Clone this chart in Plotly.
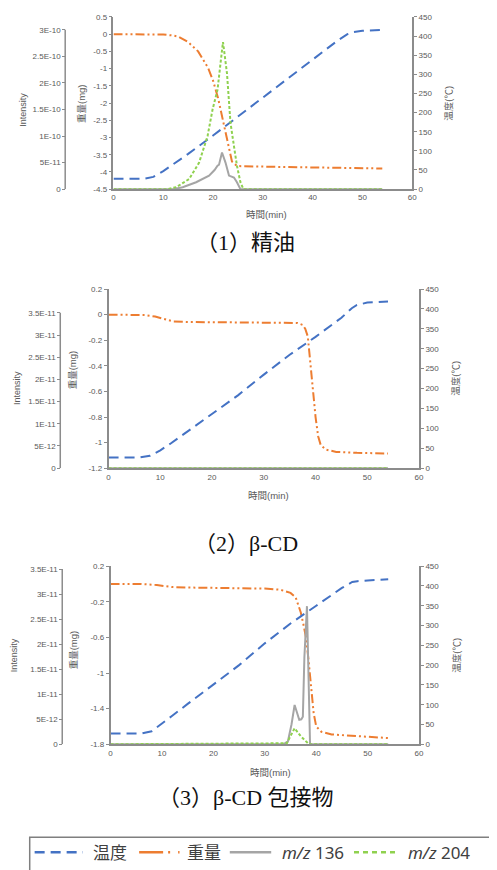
import plotly.graph_objects as go

# page body keeps an 8px margin: the figure is shifted so it lines up with the window
OFF = 8
FW, FH = 497 - OFF, 870 - OFF

# ---------------- data ----------------
x_ticks = [0, 10, 20, 30, 40, 50, 60]
temp_ticks = [0, 50, 100, 150, 200, 250, 300, 350, 400, 450]

t_temp = [0, 6, 8, 10, 12, 15, 20, 25, 30, 35, 40, 45, 47, 48, 50, 54]
temp1 = [27, 27, 32, 47, 65, 92, 140, 190, 240, 290, 340, 388, 405, 410, 414, 416]
temp2 = [27, 27, 31, 45, 62, 90, 135, 183, 235, 285, 330, 378, 402, 410, 416, 419]
temp3 = [27, 27, 33, 52, 72, 102, 152, 200, 255, 305, 350, 395, 410, 412, 414, 417]

# panel 1 : 精油
t_w1 = [0, 5, 10, 12, 13, 15, 17, 19, 20, 21, 22, 23, 23.8, 24.8, 27, 30, 35, 40, 45, 50, 54]
w1 = [0, 0, -0.01, -0.04, -0.07, -0.23, -0.5, -0.98, -1.35, -1.85, -2.5, -3.2, -3.7,
      -3.83, -3.84, -3.85, -3.86, -3.87, -3.88, -3.89, -3.9]
t_a1 = [0, 12, 13.9, 16.6, 19.2, 20.3, 20.9, 21.2, 21.8, 22.5, 23.2, 24.2, 24.8, 25.5, 54]
mz136_1 = [0, 0, 3.7e-12, 1.3e-11, 2.55e-11, 3.6e-11, 4.4e-11, 4.6e-11, 6.9e-11, 5.0e-11,
           2.55e-11, 2.2e-11, 1.3e-11, 0, 0]
t_b1 = [0, 10.9, 12.6, 15.2, 17.2, 18.9, 19.9, 20.9, 21.5, 22.0, 22.8, 23.5, 24.2, 24.8, 25.5, 26.1, 54]
mz204_1 = [0, 0, 3.7e-12, 1.9e-11, 5.0e-11, 1.0e-10, 1.5e-10, 1.87e-10, 2.37e-10, 2.77e-10,
           2.18e-10, 1.25e-10, 8.1e-11, 4.4e-11, 1.3e-11, 0, 0]
w1_ticks = [0.5, 0, -0.5, -1, -1.5, -2, -2.5, -3, -3.5, -4, -4.5]
w1_text = ["0.5", "0", "-0.5", "-1", "-1.5", "-2", "-2.5", "-3", "-3.5", "-4", "-4.5"]
i1_ticks = [0, 5e-11, 1e-10, 1.5e-10, 2e-10, 2.5e-10, 3e-10]
i1_text = ["0", "5E-11", "1E-10", "1.5E-10", "2E-10", "2.5E-10", "3E-10"]

# panel 2 : β-CD
t_w2 = [0, 5, 7, 9, 11, 12.5, 15, 20, 25, 30, 35, 36.5, 37.5, 38, 38.5, 39, 39.5, 40, 40.5,
        41, 42, 44, 48, 54]
w2 = [0, 0, -0.003, -0.015, -0.04, -0.053, -0.057, -0.058, -0.058, -0.058, -0.06, -0.065,
      -0.08, -0.11, -0.17, -0.38, -0.6, -0.8, -0.95, -1.02, -1.055, -1.073, -1.08, -1.085]
t_a2 = [0, 54]
mz136_2 = [0, 0]
mz204_2 = [0, 0]
w2_ticks = [0.2, 0, -0.2, -0.4, -0.6, -0.8, -1, -1.2]
w2_text = ["0.2", "0", "-0.2", "-0.4", "-0.6", "-0.8", "-1", "-1.2"]
i23_ticks = [0, 5e-12, 1e-11, 1.5e-11, 2e-11, 2.5e-11, 3e-11, 3.5e-11]
i23_text = ["0", "5E-12", "1E-11", "1.5E-11", "2E-11", "2.5E-11", "3E-11", "3.5E-11"]

# panel 3 : β-CD 包接物
t_w3 = [0, 6, 9, 12, 15, 20, 25, 30, 33, 35, 36, 37, 37.5, 38, 38.5, 39, 39.5, 40, 41, 43,
        46, 50, 54]
w3 = [0, 0, -0.012, -0.035, -0.04, -0.043, -0.045, -0.052, -0.065, -0.1, -0.15, -0.32,
      -0.45, -0.6, -0.85, -1.2, -1.45, -1.6, -1.66, -1.69, -1.7, -1.715, -1.73]
t_a3 = [0, 33.6, 34.5, 35.2, 35.8, 36.2, 36.7, 37.1, 37.4, 37.7, 38.2, 38.8, 54]
mz136_3 = [0, 0, 6e-13, 4e-12, 7.85e-12, 6.5e-12, 4.9e-12, 5.0e-12, 5.5e-12, 1.74e-11,
           2.76e-11, 0, 0]
t_b3 = [0, 34.3, 34.8, 35.8, 37.0, 38.0, 38.6, 54]
mz204_3 = [0, 2e-13, 1.25e-12, 3.2e-12, 1.6e-12, 6e-13, 0, 0]
w3_ticks = [0.2, -0.2, -0.6, -1, -1.4, -1.8]
w3_text = ["0.2", "-0.2", "-0.6", "-1", "-1.4", "-1.8"]

captions = ["（1）精油", "（2）β-CD", "（3）β-CD 包接物"]
names = ["温度", "重量", "<i>m/z</i> 136", "<i>m/z</i> 204"]

# ---------------- styling ----------------
C_T, C_W, C_136, C_204 = "#4472C4", "#ED7D31", "#A5A5A5", "#8FD14F"
D_T, D_W, D_204 = "10px,6px", "9px,3px,2px,3px,2px,3px", "3px,2px"
AX = "#8C8C8C"
TXT = "#595959"
TF = dict(family="Liberation Sans, Arial", size=8, color=TXT)
CJK = "Noto Sans CJK JP"


def px(X):
    return (X - OFF) / FW


def py(Y):
    return 1 - (Y - OFF) / FH


panels = [
    dict(xd=(113, 416), yd=(13, 187), wr=(-4.5, 0.5), wt=(w1_ticks, w1_text),
         ir=3e-10 * 174 / 161, it=(i1_ticks, i1_text), itop=3e-10, ipos=64,
         temp=temp1, tw=t_w1, w=w1, ta=t_a1, a=mz136_1, tb=t_b1, b=mz204_1,
         tit_int=(21, 107), tit_w=(80, 100), tit_t=(452, 100), xt=(268, 213), cap=241),
    dict(xd=(108, 423), yd=(288, 469), wr=(-1.2, 0.2), wt=(w2_ticks, w2_text),
         ir=3.5e-11 * 181 / 157, it=(i23_ticks, i23_text), itop=3.5e-11, ipos=59,
         temp=temp2, tw=t_w2, w=w2, ta=t_a2, a=mz136_2, tb=t_a2, b=mz204_2,
         tit_int=(15, 388), tit_w=(71, 370), tit_t=(460, 378), xt=(270, 497), cap=545),
    dict(xd=(110, 423), yd=(568, 748), wr=(-1.8, 0.2), wt=(w3_ticks, w3_text),
         ir=3.5e-11 * 180 / 177, it=(i23_ticks, i23_text), itop=3.5e-11, ipos=61,
         temp=temp3, tw=t_w3, w=w3, ta=t_a3, a=mz136_3, tb=t_b3, b=mz204_3,
         tit_int=(12, 658), tit_w=(72, 653), tit_t=(461, 658), xt=(272, 777), cap=802),
]

fig = go.Figure()
layout = {}
shapes = []
annotations = []


def ann(text, pos, angle=0, size=9, fam="Liberation Sans, " + CJK, color=TXT, xanchor="center"):
    annotations.append(dict(text=text, x=px(pos[0]), y=py(pos[1]), xref="paper",
                            yref="paper", showarrow=False, textangle=angle,
                            xanchor=xanchor, yanchor="middle",
                            font=dict(size=size, family=fam, color=color)))


for i, p in enumerate(panels):
    k = i + 1
    xa = "x" if k == 1 else f"x{k}"
    yw_n, yt_n, yi_n = 3 * i + 1, 3 * i + 2, 3 * i + 3
    yw = "y" if yw_n == 1 else f"y{yw_n}"
    yt, yi = f"y{yt_n}", f"y{yi_n}"

    fig.add_trace(go.Scatter(x=t_temp, y=p["temp"], xaxis=xa, yaxis=yt, mode="lines",
                             name=names[0], line=dict(color=C_T, width=2, dash=D_T)))
    fig.add_trace(go.Scatter(x=p["tw"], y=p["w"], xaxis=xa, yaxis=yw, mode="lines",
                             name=names[1], line=dict(color=C_W, width=2, dash=D_W)))
    fig.add_trace(go.Scatter(x=p["ta"], y=p["a"], xaxis=xa, yaxis=yi, mode="lines",
                             name=names[2], line=dict(color=C_136, width=2)))
    fig.add_trace(go.Scatter(x=p["tb"], y=p["b"], xaxis=xa, yaxis=yi, mode="lines",
                             name=names[3], line=dict(color=C_204, width=2, dash=D_204)))

    xkey = "xaxis" if k == 1 else f"xaxis{k}"
    layout[xkey] = dict(domain=[px(p["xd"][0]), px(p["xd"][1])], anchor=yw,
                        range=[0, 60], tickvals=x_ticks, ticks="", showgrid=False,
                        zeroline=False, showline=True, linecolor=AX, linewidth=1.5,
                        tickfont=TF)
    ykw = "yaxis" if yw_n == 1 else f"yaxis{yw_n}"
    layout[ykw] = dict(domain=[py(p["yd"][1]), py(p["yd"][0])], anchor=xa,
                       range=list(p["wr"]), tickvals=p["wt"][0], ticktext=p["wt"][1],
                       ticks="outside", ticklen=3, tickcolor=AX, showgrid=False,
                       zeroline=False, showline=True, linecolor=AX, linewidth=1.5,
                       tickfont=TF)
    layout[f"yaxis{yt_n}"] = dict(overlaying=yw, side="right", anchor=xa,
                                  range=[0, 450], tickvals=temp_ticks, ticks="outside",
                                  ticklen=3, tickcolor=AX, showgrid=False, zeroline=False,
                                  showline=True, linecolor=AX, linewidth=1.5, tickfont=TF)
    layout[f"yaxis{yi_n}"] = dict(overlaying=yw, side="left", anchor="free",
                                  position=px(p["ipos"]), range=[0, p["ir"]],
                                  tickvals=p["it"][0], ticktext=p["it"][1],
                                  ticks="outside", ticklen=3, tickcolor=AX,
                                  showgrid=False, zeroline=False, showline=False,
                                  tickfont=TF)
    shapes.append(dict(type="line", xref="paper", yref=yi, x0=px(p["ipos"]),
                       x1=px(p["ipos"]), y0=0, y1=p["itop"],
                       line=dict(color=AX, width=1.5)))

    ann("Intensity", p["tit_int"], -90, 9)
    ann("重量(mg)", p["tit_w"], -90, 9.5)
    ann("温度(℃)", p["tit_t"], -90, 9.5)
    ann("時間(min)", p["xt"], 0, 9.5)
    ann(captions[i], (247, p["cap"]), 0, 22, "Liberation Serif, " + CJK, "#111111")

# ---------------- legend (drawn as a boxed key) ----------------
LY = 857
shapes.append(dict(type="rect", xref="paper", yref="paper", x0=px(28), x1=px(495),
                   y0=py(842), y1=py(885), line=dict(color="#7F7F7F", width=1.5),
                   fillcolor="rgba(0,0,0,0)"))
legend_items = [
    (33, 82, C_T, "10px,6px", 90, names[0]),
    (139, 180, C_W, "24px,5px,2px,8px,2px,8px", 186, names[1]),
    (231, 273, C_136, "solid", 282, names[2]),
    (357, 400, C_204, "5px,4px", 410, names[3]),
]
for x0, x1, col, dash, tx, label in legend_items:
    shapes.append(dict(type="line", xref="paper", yref="paper", x0=px(x0), x1=px(x1),
                       y0=py(LY), y1=py(LY), line=dict(color=col, width=2.5, dash=dash)))
    ann(label, (tx, LY), 0, 17, "Noto Sans, " + CJK, "#404040", xanchor="left")

fig.update_layout(
    width=FW, height=FH, margin=dict(l=0, r=0, t=0, b=0),
    paper_bgcolor="white", plot_bgcolor="white",
    shapes=shapes, annotations=annotations,
    showlegend=False,
    **layout,
)

fig.write_html("out.html")
